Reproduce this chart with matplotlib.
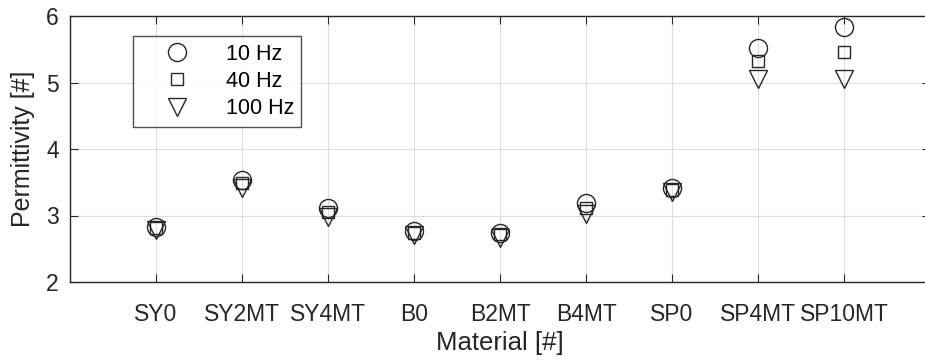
import matplotlib
matplotlib.use("Agg")
import matplotlib.pyplot as plt

plt.rcParams['font.family'] = ['Liberation Sans', 'DejaVu Sans']

materials = ["SY0", "SY2MT", "SY4MT", "B0", "B2MT", "B4MT", "SP0", "SP4MT", "SP10MT"]
eps_10hz = [2.83, 3.53, 3.11, 2.76, 2.73, 3.19, 3.41, 5.52, 5.83]
eps_40hz = [2.81, 3.49, 3.05, 2.74, 2.72, 3.12, 3.39, 5.32, 5.46]
eps_100hz = [2.78, 3.42, 2.98, 2.70, 2.66, 3.03, 3.35, 5.05, 5.05]

x = list(range(1, len(materials) + 1))

fig = plt.figure(figsize=(9.25, 3.63), dpi=100)
ax = fig.add_axes([70 / 925, 1 - 282 / 363, 860 / 925, 266 / 363])

edge = "#262626"
ax.plot(x, eps_10hz, linestyle="none", marker="o", markersize=13, mfc="none",
        mec=edge, mew=1.0, label="10 Hz")
ax.plot(x, eps_40hz, linestyle="none", marker="s", markersize=8, mfc="none",
        mec=edge, mew=1.0, label="40 Hz")
ax.plot(x, eps_100hz, linestyle="none", marker="v", markersize=13, mfc="none",
        mec=edge, mew=1.0, label="100 Hz")

ax.set_xlim(0, 10)
ax.set_ylim(2, 6)
ax.set_xticks(x)
ax.set_xticklabels(materials)
ax.set_yticks([2, 3, 4, 5, 6])
ax.grid(True, color="#dedede", linewidth=0.8)
ax.set_axisbelow(True)
ax.tick_params(direction="in", top=True, right=True, labelsize=16.5,
               colors=edge, length=6, width=0.8, pad=15)
ax.tick_params(axis="y", pad=8)
for s in ax.spines.values():
    s.set_color(edge)
    s.set_linewidth(1.0)

ax.set_xlabel("Material [#]", fontsize=18.5, color=edge, labelpad=4)
ax.set_ylabel("Permittivity [#]", fontsize=18, color=edge, labelpad=8)

leg = ax.legend(loc="upper left", bbox_to_anchor=(63 / 860, 1 - 20 / 266),
                fontsize=15.5, frameon=True, fancybox=False, edgecolor=edge,
                handlelength=3.4, handletextpad=0.55, borderpad=0.35,
                labelspacing=0.3, borderaxespad=0)
leg.get_frame().set_linewidth(1.0)

fig.savefig("out.png", dpi=100)
